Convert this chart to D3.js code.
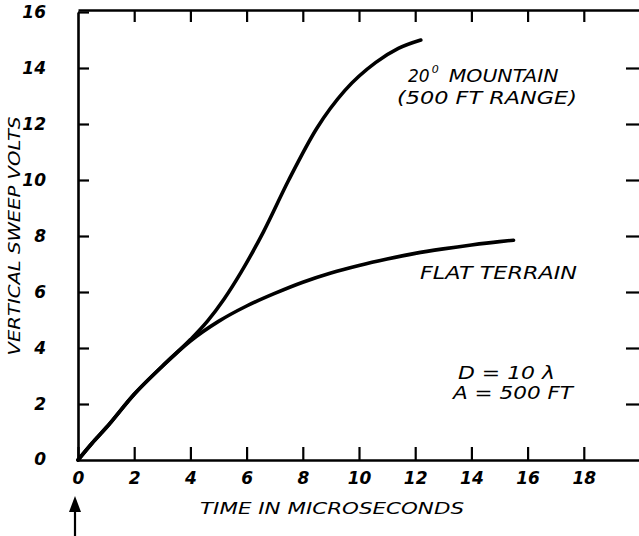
<!DOCTYPE html>
<html>
<head>
<meta charset="utf-8">
<script src="https://cdn.jsdelivr.net/npm/d3@7"></script>
<style>
  body { margin: 0; background: #fff; }
  svg { display: block; }
  text { font-family: "DejaVu Sans", sans-serif; font-style: italic; fill: #000; }
</style>
</head>
<body>
<svg width="639" height="536"></svg>
<script>
"use strict";
// x axis ticks (microseconds) and y axis ticks (volts)
const timeTicks = [0, 2, 4, 6, 8, 10, 12, 14, 16, 18];
const voltTicks = [0, 2, 4, 6, 8, 10, 12, 14, 16];

// flat terrain curve
const flatTime  = [0, 0.5, 1, 2, 3, 4, 5, 6, 7, 8, 9, 10, 11, 12, 13, 14, 15, 15.5];
const flatVolts = [0, 0.6, 1.15, 2.35, 3.35, 4.25, 4.95, 5.5, 5.95, 6.35, 6.68, 6.95, 7.18, 7.38, 7.54, 7.68, 7.8, 7.85];

// 20 degree mountain curve (shares the first part with flat terrain)
const mountainTime  = [0, 0.5, 1, 2, 3, 4, 4.6, 5.2, 5.8, 6.6, 7.5, 8.5, 9.5, 10.6, 11.4, 12.2];
const mountainVolts = [0, 0.6, 1.15, 2.35, 3.35, 4.3, 4.95, 5.75, 6.7, 8.15, 10.0, 11.85, 13.2, 14.2, 14.7, 15.0];

window.addEventListener("load", drawChart);

function drawChart() {
    const svg = d3.select("svg");

    const xForTime = d3.scaleLinear().domain([0, 20]).range([78, 640]);
    const yForVolts = d3.scaleLinear().domain([0, 16]).range([460, 12]);

    // bottom axis, ticks pointing in
    svg.append("g")
        .attr("transform", `translate(0, ${yForVolts(0)})`)
        .call(d3.axisBottom(xForTime).tickValues(timeTicks).tickSizeInner(-13).tickSizeOuter(0).tickPadding(12));
    // left axis
    svg.append("g")
        .attr("transform", `translate(${xForTime(0)}, 0)`)
        .call(d3.axisLeft(yForVolts).tickValues(voltTicks.slice(1)).tickSizeInner(-11).tickSizeOuter(0).tickPadding(32));
    // the "0" on the y axis has no inner tick
    svg.append("text")
        .attr("x", xForTime(0) - 32)
        .attr("y", yForVolts(0))
        .attr("dy", "0.32em")
        .attr("text-anchor", "end")
        .attr("font-size", 17)
        .attr("font-weight", "bold")
        .text("0");
    // top and right frame with short inward ticks, no labels
    svg.append("g")
        .attr("transform", `translate(0, ${yForVolts(16) - 2})`)
        .call(d3.axisTop(xForTime).tickValues(timeTicks.slice(1)).tickSizeInner(-12).tickSizeOuter(0).tickFormat(""));
    svg.append("g")
        .attr("transform", `translate(${xForTime(20)}, 0)`)
        .call(d3.axisRight(yForVolts).tickValues(voltTicks.slice(1, -1)).tickSizeInner(-14).tickSizeOuter(0).tickFormat(""));

    svg.selectAll(".domain").attr("stroke", "#000").attr("stroke-width", 2.6);
    svg.selectAll(".tick line").attr("stroke", "#000").attr("stroke-width", 2.2);
    svg.selectAll(".tick text")
        .attr("font-family", "DejaVu Sans")
        .attr("font-style", "italic")
        .attr("font-weight", "bold")
        .attr("font-size", 17);

    // curves
    const line = d3.line()
        .x(d => xForTime(d[0]))
        .y(d => yForVolts(d[1]))
        .curve(d3.curveMonotoneX);

    const flat = flatTime.map((t, i) => [t, flatVolts[i]]);
    const mountain = mountainTime.map((t, i) => [t, mountainVolts[i]]);

    svg.selectAll("path.curve")
        .data([flat, mountain])
        .join("path")
        .attr("class", "curve")
        .attr("d", line)
        .attr("fill", "none")
        .attr("stroke", "#000")
        .attr("stroke-width", 3.6)
        .attr("stroke-linecap", "round");

    // axis titles
    svg.append("text")
        .attr("x", 332)
        .attr("y", 514)
        .attr("text-anchor", "middle")
        .attr("font-size", 16)
        .attr("textLength", 264)
        .attr("lengthAdjust", "spacingAndGlyphs")
        .text("TIME IN MICROSECONDS");
    svg.append("text")
        .attr("transform", "translate(20 236) rotate(-90)")
        .attr("text-anchor", "middle")
        .attr("font-size", 15)
        .attr("textLength", 239)
        .attr("lengthAdjust", "spacingAndGlyphs")
        .text("VERTICAL SWEEP VOLTS");

    // annotations
    const mountainLabel = svg.append("text")
        .attr("x", 408)
        .attr("y", 82)
        .attr("font-size", 17);
    mountainLabel.append("tspan").text("20");
    mountainLabel.append("tspan").attr("font-size", 11).attr("dy", -9).attr("dx", 2).text("0");
    mountainLabel.append("tspan").attr("dy", 9).attr("dx", 10)
        .attr("textLength", 110).attr("lengthAdjust", "spacingAndGlyphs").text("MOUNTAIN");

    const notes = [
        { text: "(500 FT RANGE)", x: 397, y: 104, len: 180 },
        { text: "FLAT TERRAIN", x: 420, y: 279, len: 157 },
        { text: "D = 10 λ", x: 458, y: 379, len: 97 },
        { text: "A = 500 FT", x: 453, y: 399, len: 120 }
    ];
    svg.selectAll("text.note")
        .data(notes)
        .join("text")
        .attr("class", "note")
        .attr("x", d => d.x)
        .attr("y", d => d.y)
        .attr("font-size", 17)
        .attr("textLength", d => d.len)
        .attr("lengthAdjust", "spacingAndGlyphs")
        .text(d => d.text);

    // arrow marking time zero
    const ax = xForTime(0) - 3;
    svg.append("line")
        .attr("x1", ax).attr("x2", ax)
        .attr("y1", 536).attr("y2", 500)
        .attr("stroke", "#000")
        .attr("stroke-width", 2.2);
    svg.append("path")
        .attr("d", `M${ax},496 L${ax - 6},512 L${ax + 6},512 Z`)
        .attr("fill", "#000");
}
</script>
</body>
</html>
